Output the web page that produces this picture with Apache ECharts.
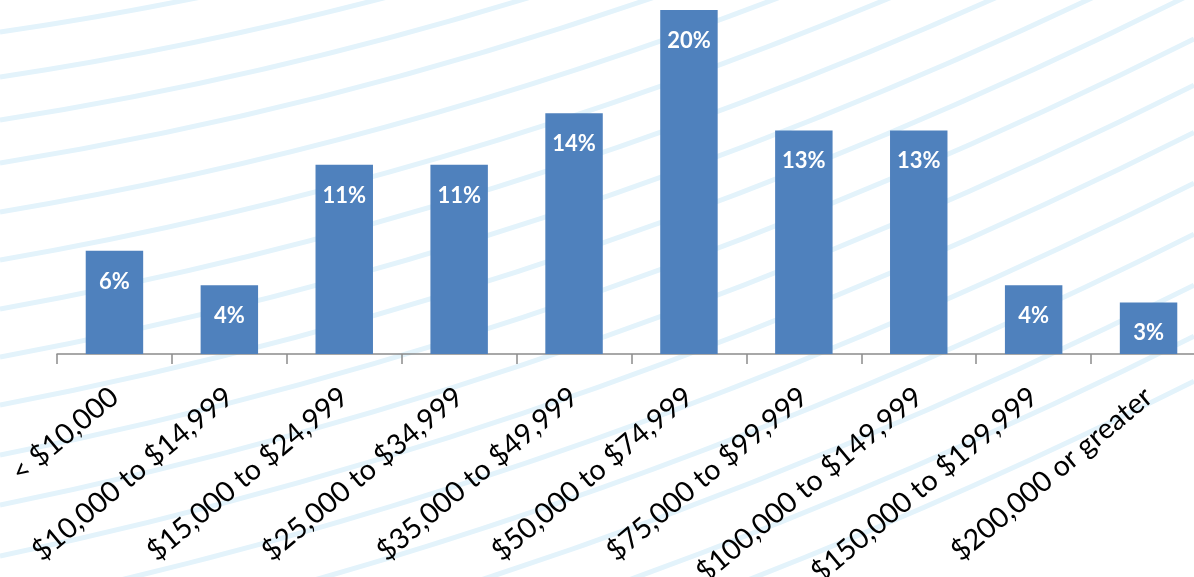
<!DOCTYPE html>
<html>
<head>
<meta charset="utf-8">
<script src="https://cdn.jsdelivr.net/npm/echarts@6/dist/echarts.min.js"></script>
<style>
  html, body { margin: 0; padding: 0; background: #ffffff; }
  #chart { width: 1194px; height: 577px; }
</style>
</head>
<body>
<div id="chart"></div>
<script>
// Household income brackets and share of households in each
const categories = [
  '< $10,000',
  '$10,000 to $14,999',
  '$15,000 to $24,999',
  '$25,000 to $34,999',
  '$35,000 to $49,999',
  '$50,000 to $74,999',
  '$75,000 to $99,999',
  '$100,000 to $149,999',
  '$150,000 to $199,999',
  '$200,000 or greater'
];
const shares = [6, 4, 11, 11, 14, 20, 13, 13, 4, 3];

// Left-edge heights of the decorative background swooshes
const stripeStarts = [32, 77, 120, 163, 212, 260, 309, 357, 405, 455, 505, 556, 607, 658, 709, 760, 805];

const W = 1194;
const stripes = stripeStarts.map(function (y0) {
  const s0 = 0.14 + 0.07 * Math.min(y0, 560) / 560;
  const cpy = y0 - s0 * W / 2;
  return {
    type: 'bezierCurve',
    silent: true,
    z: -10,
    shape: { x1: 0, y1: y0, cpx1: W / 2, cpy1: cpy, x2: W, y2: cpy - 0.5 * W / 2 },
    style: { stroke: '#e3f3fb', lineWidth: 5, fill: null }
  };
});

const chart = echarts.init(document.getElementById('chart'), null, { renderer: 'canvas' });
chart.setOption({
  backgroundColor: '#ffffff',
  animation: false,
  graphic: stripes,
  // the plot runs a little past the right edge, so the last slot is cut off
  grid: {
    left: 57, width: 1149, top: 10, height: 344,
    containLabel: false,
    outerBoundsMode: 'none'
  },
  xAxis: {
    type: 'category',
    data: categories,
    axisLine: { show: true, lineStyle: { color: '#8c8c8c', width: 1.5 } },
    axisTick: { show: true, length: 10, lineStyle: { color: '#8c8c8c', width: 1.5 } },
    axisLabel: {
      interval: 0,
      rotate: 40,
      margin: 39,
      color: '#000000',
      fontFamily: 'Lato',
      fontSize: 28.5
    }
  },
  yAxis: {
    type: 'value',
    min: 0,
    max: 20,
    show: false,
    splitLine: { show: false }
  },
  series: [{
    type: 'bar',
    data: shares,
    barCategoryGap: '50%',
    itemStyle: { color: '#4f81bd' },
    label: {
      show: true,
      position: 'insideTop',
      distance: 20,
      formatter: '{c}%',
      color: '#ffffff',
      fontFamily: 'Lato',
      fontWeight: 'bold',
      fontSize: 22
    }
  }]
});
</script>
</body>
</html>
